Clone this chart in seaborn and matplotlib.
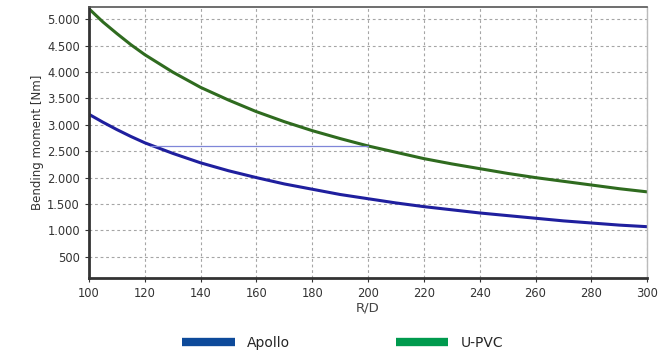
import pandas as pd
import numpy as np
import matplotlib.pyplot as plt
import seaborn as sns
from matplotlib.ticker import FuncFormatter
from matplotlib.lines import Line2D

# values
rd = [100, 105, 110, 115, 120, 130, 140, 150, 160, 170, 180, 190, 200,
      210, 220, 230, 240, 250, 260, 270, 280, 290, 300]
apollo = [3200, 3050, 2910, 2780, 2660, 2460, 2280, 2130, 2000, 1880, 1780, 1680, 1600,
          1520, 1450, 1390, 1330, 1280, 1230, 1180, 1140, 1100, 1070]
upvc = [5200, 4950, 4730, 4520, 4330, 4000, 3710, 3470, 3250, 3060, 2890, 2740, 2600,
        2480, 2360, 2260, 2170, 2080, 2000, 1930, 1860, 1790, 1730]
# thin marker line between the curves
mark_x = [122, 200]
mark_y = [2600, 2600]

df = pd.DataFrame({"R/D": rd * 2,
                   "moment": apollo + upvc,
                   "series": ["Apollo"] * len(rd) + ["U-PVC"] * len(rd)})

sns.set_style("white")
fig = plt.figure(figsize=(6.59, 3.59), dpi=100)
ax = fig.add_axes([0.135, 0.226, 0.847, 0.754])

sns.lineplot(data=df, x="R/D", y="moment", hue="series",
             palette={"Apollo": "#1f1f9e", "U-PVC": "#2f6b1f"},
             linewidth=2.2, legend=False, ax=ax)
ax.plot(mark_x, mark_y, color="#7f86d8", linewidth=0.9)

ax.set_xlim(100, 300)
ax.set_ylim(100, 5230)
ax.set_xticks(range(100, 301, 20))
ax.set_yticks(range(500, 5001, 500))
ax.yaxis.set_major_formatter(FuncFormatter(lambda v, p: f"{int(v):,}".replace(",", ".")))
ax.grid(True, color="#a5a5a5", linestyle=(0, (2.5, 2.5)), linewidth=0.8)
ax.tick_params(axis="both", labelsize=8.3, colors="#333333", length=3, direction="out", left=True, bottom=True)
for s in ["left", "bottom"]:
    ax.spines[s].set_color("#333333")
    ax.spines[s].set_linewidth(2)
ax.spines["top"].set_color("#555555")
ax.spines["top"].set_linewidth(1.2)
ax.spines["right"].set_color("#bbbbbb")
ax.spines["right"].set_linewidth(1)

ax.set_xlabel("R/D", fontsize=9.5, color="#444444", labelpad=1)
ax.set_ylabel("Bending moment [Nm]", fontsize=8.5, color="#333333", labelpad=2)

handles = [Line2D([], [], color="#0d4a9a", linewidth=6, solid_capstyle="butt"),
           Line2D([], [], color="#009a4e", linewidth=6, solid_capstyle="butt")]
fig.legend(handles, ["Apollo", "U-PVC"], loc="center", bbox_to_anchor=(0.52, 0.045),
           ncol=2, frameon=False, fontsize=10, handlelength=3.75, columnspacing=7.6, handletextpad=0.9)

fig.savefig("out.png", dpi=100, facecolor="white")
